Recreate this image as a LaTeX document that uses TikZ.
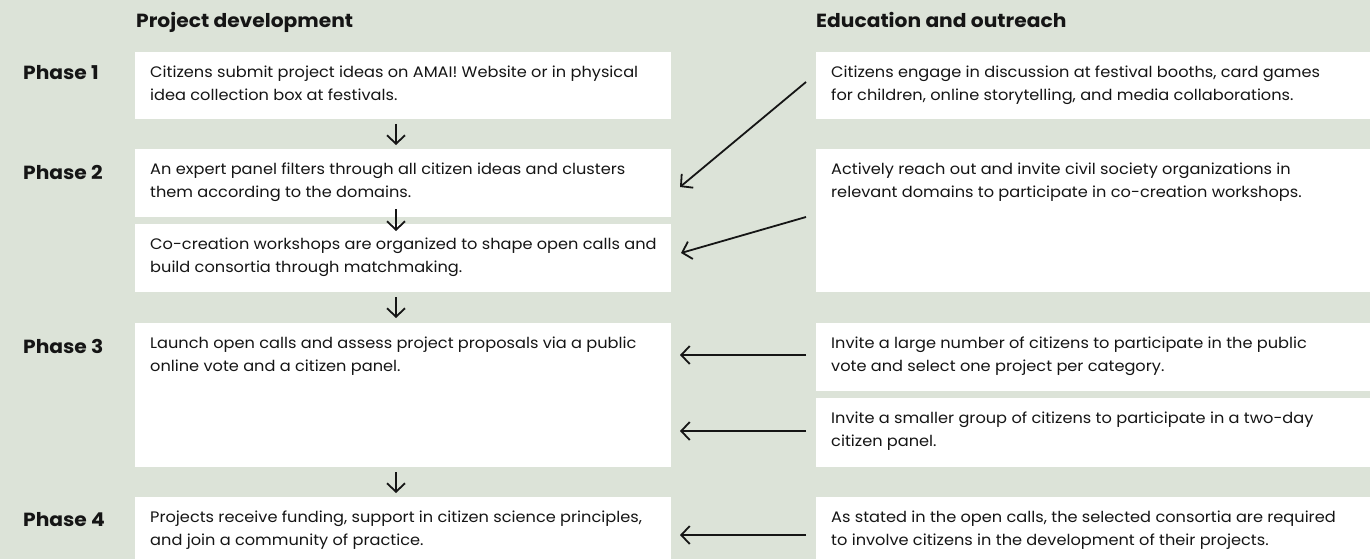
\documentclass[tikz,border=0pt]{standalone}
\usepackage{fontspec}
\setmainfont{Poppins}[FakeStretch=1.065]
\usetikzlibrary{arrows.meta}
\definecolor{bg}{HTML}{DCE3D8}
\definecolor{ink}{HTML}{151515}
\begin{document}
\begin{tikzpicture}[x=1pt,y=-1pt,
  box/.style={fill=white, draw=none, anchor=north west, inner sep=0pt, outer sep=0pt},
  lbox/.style={box, minimum width=536pt},
  rbox/.style={box, minimum width=554pt},
  txt/.style={anchor=north west, align=left, inner sep=0pt, font=\fontsize{15.2}{23}\selectfont, text=ink},
  phase/.style={anchor=west, inner sep=0pt, font=\fontsize{19}{22}\selectfont\bfseries, text=ink},
  head/.style={anchor=base west, inner sep=0pt, font=\fontsize{19}{22}\selectfont\bfseries, text=ink},
  arr/.style={-{Straight Barb[length=8.5pt,width=18pt]}, line width=1.8pt, draw=ink}]
\useasboundingbox (0,0) rectangle (1370,559);
\fill[bg] (0,0) rectangle (1370,559);

% headers
\node[head] (h1) at (136,28) {Project development};
\node[head] (h2) at (816,28) {Education and outreach};

% phase labels
\node[phase] (p1) at (23,73) {Phase 1};
\node[phase] (p2) at (23,172) {Phase 2};
\node[phase] (p3) at (23,346) {Phase 3};
\node[phase] (p4) at (23,520) {Phase 4};

% left boxes
\node[lbox, minimum height=67pt] (b1) at (135,52) {};
\node[lbox, minimum height=68pt] (b2) at (135,149) {};
\node[lbox, minimum height=68pt] (b3) at (135,224) {};
\node[lbox, minimum height=144pt] (b4) at (135,323) {};
\node[lbox, minimum height=70pt] (b5) at (135,497) {};

% right boxes
\node[rbox, minimum height=67pt] (r1) at (816,52) {};
\node[rbox, minimum height=143pt] (r2) at (816,149) {};
\node[rbox, minimum height=68pt] (r3) at (816,323) {};
\node[rbox, minimum height=69pt] (r4) at (816,398) {};
\node[rbox, minimum height=70pt] (r5) at (816,497) {};

% texts left
\node[txt] (t1) at ([xshift=15pt,yshift=-13.5pt]b1.north west) {Citizens submit project ideas on AMAI! Website or in physical\\idea collection box at festivals.};
\node[txt] (t2) at ([xshift=15pt,yshift=-13.5pt]b2.north west) {An expert panel filters through all citizen ideas and clusters\\them according to the domains.};
\node[txt] (t3) at ([xshift=15pt,yshift=-13.5pt]b3.north west) {Co-creation workshops are organized to shape open calls and\\build consortia through matchmaking.};
\node[txt] (t4) at ([xshift=15pt,yshift=-13.5pt]b4.north west) {Launch open calls and assess project proposals via a public\\online vote and a citizen panel.};
\node[txt] (t5) at ([xshift=15pt,yshift=-13.5pt]b5.north west) {Projects receive funding, support in citizen science principles,\\and join a community of practice.};

% texts right
\node[txt] (s1) at ([xshift=15pt,yshift=-13.5pt]r1.north west) {Citizens engage in discussion at festival booths, card games\\for children, online storytelling, and media collaborations.};
\node[txt] (s2) at ([xshift=15pt,yshift=-13.5pt]r2.north west) {Actively reach out and invite civil society organizations in\\relevant domains to participate in co-creation workshops.};
\node[txt] (s3) at ([xshift=15pt,yshift=-13.5pt]r3.north west) {Invite a large number of citizens to participate in the public\\vote and select one project per category.};
\node[txt] (s4) at ([xshift=15pt,yshift=-13.5pt]r4.north west) {Invite a smaller group of citizens to participate in a two-day\\citizen panel.};
\node[txt] (s5) at ([xshift=15pt,yshift=-13.5pt]r5.north west) {As stated in the open calls, the selected consortia are required\\to involve citizens in the development of their projects.};

% down arrows
\draw[arr, shorten <=5pt, shorten >=4pt] ([xshift=-7pt]b1.south) -- ([xshift=-7pt]b2.north);
\draw[arr, shorten <=-8pt, shorten >=-7pt] ([xshift=-7pt]b2.south) -- ([xshift=-7pt]b3.north);
\draw[arr, shorten <=5pt, shorten >=5pt] ([xshift=-7pt]b3.south) -- ([xshift=-7pt]b4.north);
\draw[arr, shorten <=5pt, shorten >=4pt] ([xshift=-7pt]b4.south) -- ([xshift=-7pt]b5.north);

% diagonal arrows
\draw[arr] ([xshift=-10pt,yshift=3.5pt]r1.west) -- ([xshift=9pt,yshift=-4pt]b2.east);
\draw[arr] ([xshift=-10pt,yshift=3.5pt]r2.west) -- ([xshift=10pt,yshift=5pt]b3.east);

% horizontal arrows
\draw[arr, shorten <=10pt, shorten >=9pt] ([yshift=2pt]r3.west) -- ([yshift=2pt]r3.west -| b4.east);
\draw[arr, shorten <=10pt, shorten >=9pt] ([yshift=1.5pt]r4.west) -- ([yshift=1.5pt]r4.west -| b4.east);
\draw[arr, shorten <=10pt, shorten >=9pt] ([yshift=-3pt]r5.west) -- ([yshift=-3pt]r5.west -| b5.east);
\end{tikzpicture}
\end{document}
